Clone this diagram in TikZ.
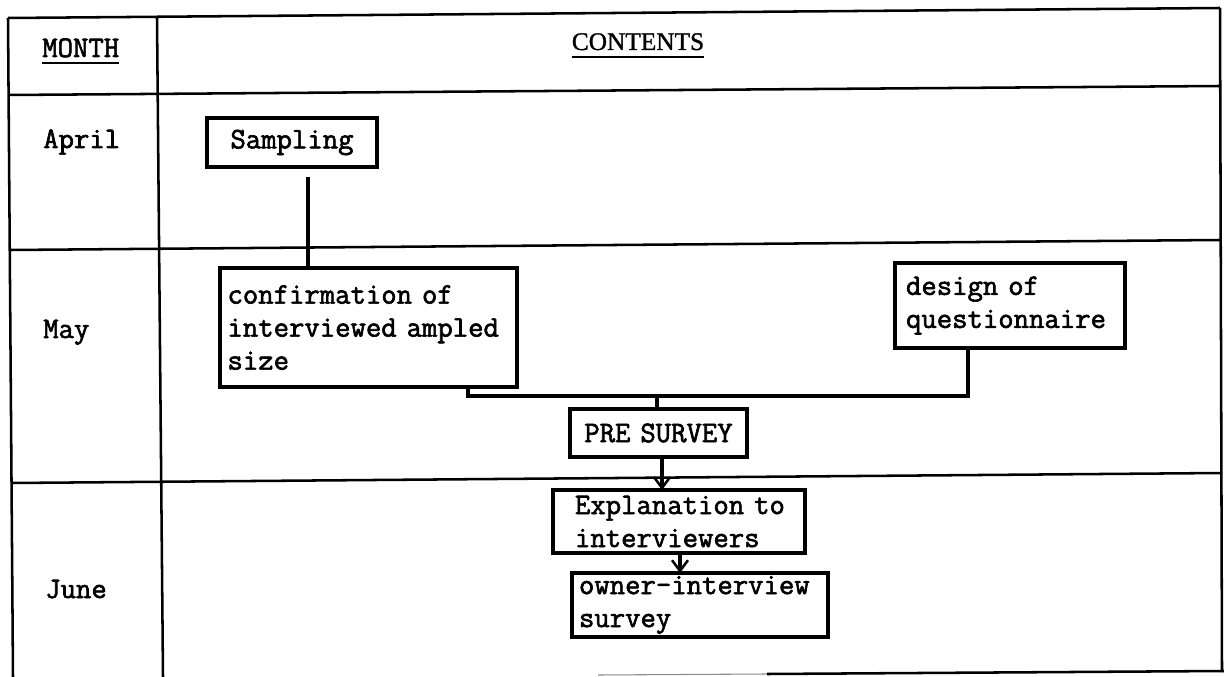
\documentclass[tikz,border=0pt]{standalone}
\usepackage{fontspec}
\newfontfamily\tw{Latin Modern Mono}[FakeBold=2]
\newfontfamily\headfont{Liberation Serif}[FakeBold=1.2]
\usetikzlibrary{arrows.meta}
\newdimen\pxu
\pxu=0.75pt
\newcommand\ind{\hspace*{16\pxu}}
% typewriter face used for every label
\newcommand\typer{\tw\fontsize{22.4}{24.75}\selectfont}
\begin{document}
\begin{tikzpicture}[x=0.75pt,y=-0.75pt,
  rule/.style={line width=1.9pt},
  link/.style={line width=2.8pt},
  arr/.style={link,-{Straight Barb[length=8pt,width=12pt,line width=1.9pt]}},
  lab/.style={font=\typer,inner sep=0pt,anchor=base west},
  stepbox/.style={draw,line width=2.5pt,font=\typer,
    align=left,inner ysep=0pt,outer sep=0pt}
]
\useasboundingbox (0,0) rectangle (1224,677);

% table frame
\draw[rule] (8,18) -- (1220,8);
\draw[rule] (8,95) -- (1220,86);
\draw[rule] (10,250) -- (1220,240);
\draw[rule] (11,483) -- (1222,473);
\draw[rule] (8,18) -- (13,677);
\draw[rule] (157,18) -- (163,677);
\draw[rule] (1220,8) -- (1222,672);
\draw[line width=0.8pt,black!45] (598,675) -- (767,674);
\draw[rule] (767,674) -- (1224,671);

% headings
\node[lab] (mh) at (42,57) {MONTH};
\draw[line width=1.8pt] ([yshift=-6\pxu]mh.base west) -- ([yshift=-6\pxu]mh.base east);
\node[inner sep=0pt,anchor=base,font=\headfont\fontsize{19}{23}\selectfont] (ch) at (638,50) {CONTENTS};
\draw[line width=1.8pt] ([yshift=-7\pxu]ch.base west) -- ([yshift=-7\pxu]ch.base east);

% month labels
\node[lab] (apr) at (43,148) {April};
\node[lab] (may) at (43,338) {May};
\node[lab] (jun) at (45,598) {June};

% steps
\node[stepbox,inner xsep=0pt,text width=170\pxu,align=center,minimum height=49\pxu] (samp) at (292,142.5) {Sampling};
\node[stepbox,inner xsep=7.5\pxu,text width=282\pxu,minimum height=119\pxu] (conf) at (368.5,327.5)
  {confirmation of\\interviewed ampled\\size};
\node[stepbox,inner xsep=11\pxu,text width=208\pxu,minimum height=85\pxu] (dsgn) at (1010,305.5)
  {design of\\questionnaire};
\node[stepbox,inner xsep=0pt,text width=177\pxu,align=center,minimum height=48\pxu] (pre) at (658.5,433) {PRE SURVEY};
\node[stepbox,inner xsep=6\pxu,text width=240\pxu,minimum height=63\pxu] (expl) at (679,521.5)
  {\ind Explanation to\\\ind interviewers};
\node[stepbox,inner xsep=7\pxu,text width=242\pxu,minimum height=64\pxu] (own) at (700,605)
  {owner-interview\\survey};

% connectors
\draw[link] ([xshift=16\pxu,yshift=-10\pxu]samp.south) -- ([xshift=16\pxu]samp.south |- conf.north);
\coordinate (j) at (657,396);
\draw[link] ([xshift=99.5\pxu]conf.south) |- (j) -| ([xshift=-42\pxu]dsgn.south);
\draw[link] (j) -- (j |- pre.north);
\draw[arr] ([xshift=3.5\pxu]pre.south) -- ([xshift=3.5\pxu]pre.south |- expl.north);
\draw[arr] ([xshift=1\pxu]expl.south) -- ([xshift=1\pxu]expl.south |- own.north);
\end{tikzpicture}
\end{document}
